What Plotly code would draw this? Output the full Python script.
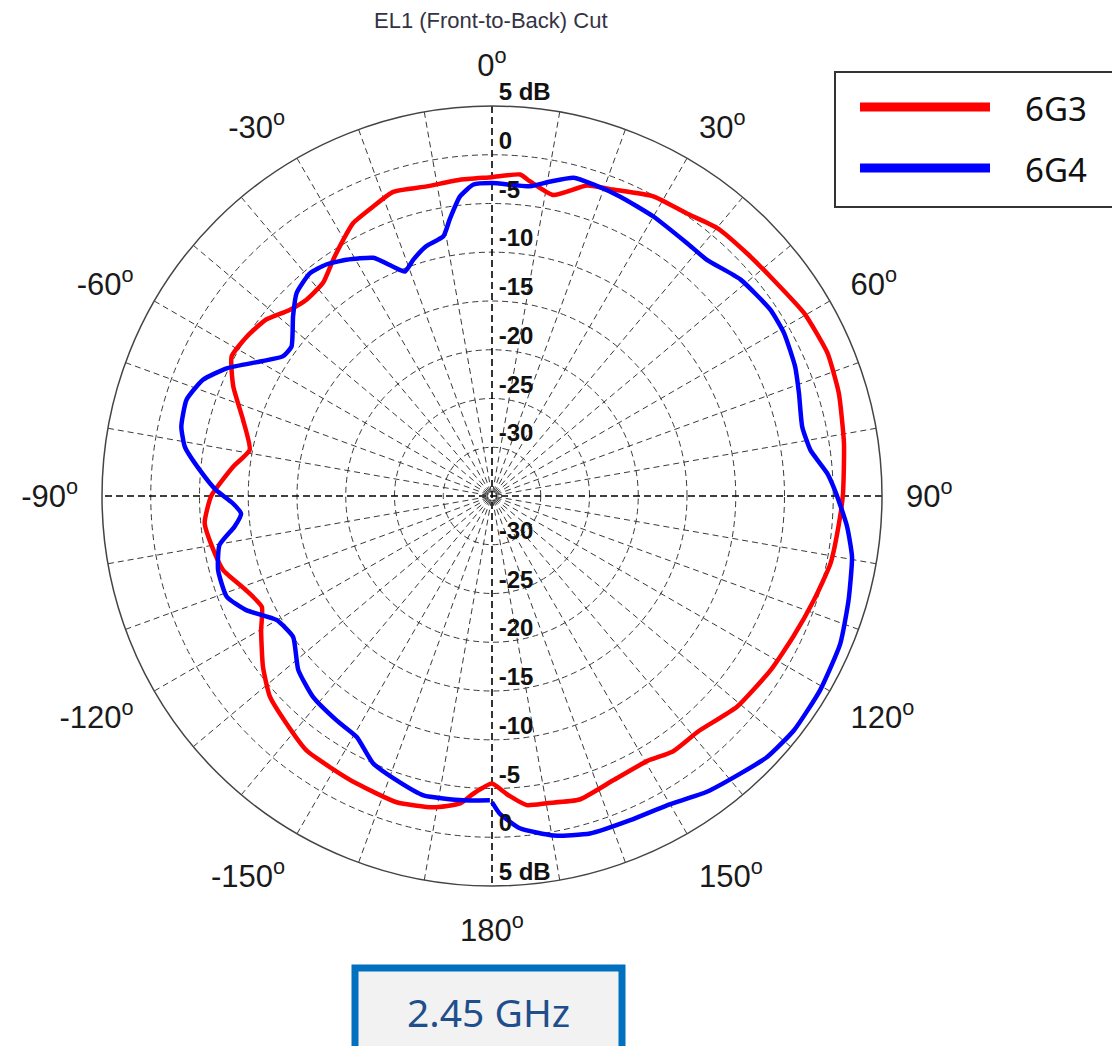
import plotly.graph_objects as go

# ---------------- data ----------------
theta_6g3 = [-180, -176.4, -174.1, -169.3, -162.7, -154.8, -149.1, -143.9, -137.9, -132.1,
             -126.7, -120.2, -115.7, -111, -105.4, -101, -95.4, -90, -83.5, -79.2,
             -73, -67.1, -61.8, -57, -52, -47.4, -43.4, -38.4, -33.9, -30.1,
             -27, -22.3, -18, -11.9, -5.8, 0, 5, 6.9, 11.5, 17,
             21.6, 28.3, 34.6, 40, 46.4, 52.5, 59.6, 66.9, 73.5, 81.5,
             89.6, 94.5, 101.3, 107.9, 115, 122, 130.7, 138.8, 144.7, 149.6,
             156.9, 163.9, 169.9, 173.6, 177.2, 180]
r_6g3 = [-5.5, -4.4, -3.3, -2.5, -2.1, -2.4, -2.6, -2.7, -3.55, -4.3,
         -5.7, -7.6, -8.8, -8.0, -6.4, -5.9, -5.4, -6.2, -8.3, -9.7,
         -8.3, -6.2, -4.7, -5.0, -5.6, -6.8, -7.3, -7.1, -5.8, -4.6,
         -3.6, -2.9, -2.2, -2.55, -2.4, -2.3, -1.9, -2.5, -3.5, -1.7,
         -1.2, -0.1, 0.2, 0.9, 1.1, 1.4, 2.1, 2.4, 2.1, 1.5,
         1.0, 0.7, 0.4, -0.3, -0.9, -1.3, -1.85, -2.9, -2.9, -3.5,
         -3.3, -2.6, -3.0, -3.1, -4.4, -5.5]

theta_6g4 = [-179.6, -174.6, -167.1, -161.4, -156, -150.7, -145.3, -138.3, -131.9, -125.3,
             -119.9, -114.9, -110.8, -105.1, -100.2, -96.8, -94, -91.6, -88.8, -84.9,
             -80.9, -77.4, -72.5, -68.1, -64.3, -59.9, -56.3, -53.3, -47.9, -43.9,
             -39.3, -35.6, -31.6, -26.5, -23.3, -21.2, -18.4, -14.7, -10.6, -8.7,
             -6.1, -3.4, 0, 7, 10.5, 14.4, 18, 23.2, 30, 37.6,
             42.3, 48.9, 56.2, 60.8, 66.9, 71.5, 77.4, 81.8, 86.1, 89.6,
             94.9, 99.6, 106.3, 113, 120.6, 127.8, 133.5, 138.2, 144, 150.5,
             156.9, 163.8, 169.7, 175.2, 178.6, 180]
r_6g4 = [-3.8, -3.65, -3.5, -4.25, -5.0, -6.65, -7.0, -7.4, -8.3, -10.0,
         -9.5, -7.2, -5.9, -5.9, -6.6, -8.4, -9.2, -8.4, -6.7, -4.9,
         -3.1, -2.35, -2.15, -3.05, -4.8, -7.5, -9.2, -9.35, -7.5, -6.1,
         -5.5, -5.8, -6.55, -7.7, -9.4, -10.3, -9.45, -8.5, -7.9, -6.3,
         -4.1, -3.0, -2.9, -3.0, -2.2, -1.3, -1.4, -1.6, -1.9, -2.25,
         -2.25, -1.2, -0.65, -0.7, -1.2, -1.8, -2.4, -2.0, -0.55, 0.3,
         1.55, 2.45, 3.1, 3.8, 4.1, 4.2, 3.9, 3.2, 2.5, 1.45,
         1.15, 1.05, 0.4, -0.8, -2.4, -3.6]

series_names = ["6G3", "6G4"]
series_colors = ["#ff0000", "#0000ff"]

radial_range = [-35, 5]
radial_ticks = [5, 0, -5, -10, -15, -20, -25, -30]
radial_tick_text = ["5 dB", "0", "-5", "-10", "-15", "-20", "-25", "-30"]

spoke_angles = list(range(0, 360, 10))
main_axes = [0, 90]
angle_label_vals = [0, 30, 60, 90, 120, 150, 180, 210, 240, 270, 300, 330]
angle_label_text = ["0", "30", "60", "90", "120", "150", "180",
                    "-150", "-120", "-90", "-60", "-30"]

title_text = "EL1 (Front-to-Back) Cut"
freq_text = "2.45 GHz"

# ---------------- figure ----------------
W, H = 1120, 1046
OFF = 8  # page body margin


def px(x):
    return (x - OFF) / W


def py(y):
    return 1 - (y - OFF) / H


GRID = "#3a3a3a"
DASH = "6px,4px"

fig = go.Figure()

# dashed spokes every 10 degrees (minor grid)
sp_r, sp_t = [], []
for a in spoke_angles:
    if a % 90 == 0:
        continue
    sp_r += [radial_range[1], radial_range[0], None]
    sp_t += [a, a, None]
fig.add_trace(go.Scatterpolar(r=sp_r, theta=sp_t, mode="lines",
                              line=dict(color=GRID, width=1, dash=DASH),
                              hoverinfo="skip", showlegend=False))

# darker main axes (0/180 and 90/-90)
for a in main_axes:
    fig.add_trace(go.Scatterpolar(
        r=[radial_range[1], radial_range[0], radial_range[1]],
        theta=[a, a, a + 180], mode="lines",
        line=dict(color="#000000", width=1.6, dash="7px,4px"),
        hoverinfo="skip", showlegend=False))

for th, rr, name, col in [(theta_6g3, r_6g3, series_names[0], series_colors[0]),
                          (theta_6g4, r_6g4, series_names[1], series_colors[1])]:
    fig.add_trace(go.Scatterpolar(r=rr, theta=th, mode="lines", name=name,
                                  line=dict(color=col, width=4.5, shape="spline",
                                            smoothing=0.5),
                                  showlegend=False))

# radial tick labels on upper and lower half
for a in (0, 180):
    fig.add_trace(go.Scatterpolar(
        r=radial_ticks, theta=[a] * len(radial_ticks), mode="text",
        text=["\u00a0" + t for t in radial_tick_text], textposition="top right",
        textfont=dict(family="Liberation Sans, Arial", size=24, color="#111111",
                      weight="bold"),
        hoverinfo="skip", showlegend=False))

ticktext = [t + "<sup>o</sup>" for t in angle_label_text]

cx, cy, R = 492, 496, 390
fig.update_layout(
    width=W, height=H,
    margin=dict(l=0, r=0, t=0, b=0),
    paper_bgcolor="white",
    plot_bgcolor="white",
    showlegend=False,
    polar=dict(
        domain=dict(x=[px(cx - R), px(cx + R)], y=[py(cy + R), py(cy - R)]),
        bgcolor="white",
        angularaxis=dict(
            rotation=90, direction="clockwise",
            tickmode="array", tickvals=angle_label_vals, ticktext=ticktext,
            tickfont=dict(family="Liberation Sans, Arial", size=31, color="#1a1a1a"),
            ticks="outside", ticklen=17, tickcolor="rgba(0,0,0,0)",
            showline=True, linecolor="#444444", linewidth=1.5,
            showgrid=False,
        ),
        radialaxis=dict(
            range=radial_range, tickmode="array", tickvals=radial_ticks[1:],
            showticklabels=False, ticks="", showline=False,
            showgrid=True, gridcolor=GRID, gridwidth=1, griddash=DASH,
        ),
    ),
)

# title
fig.add_annotation(x=px(491), y=py(20), xref="paper", yref="paper",
                   xanchor="center", yanchor="middle",
                   text=title_text, showarrow=False,
                   font=dict(family="Liberation Sans, Arial", size=22, color="#333344"))

# legend box (manual) and frequency box
shapes = [
    dict(type="rect", xref="paper", yref="paper", x0=px(835), x1=px(1140),
         y0=py(207), y1=py(72), line=dict(color="#333333", width=2), fillcolor="white"),
    dict(type="line", xref="paper", yref="paper", x0=px(860), x1=px(990),
         y0=py(107), y1=py(107), line=dict(color=series_colors[0], width=9)),
    dict(type="line", xref="paper", yref="paper", x0=px(860), x1=px(990),
         y0=py(168), y1=py(168), line=dict(color=series_colors[1], width=9)),
    dict(type="rect", xref="paper", yref="paper", x0=px(355), x1=px(622),
         y0=py(1060), y1=py(968), line=dict(color="#0070c0", width=7), fillcolor="#f2f2f2"),
]
fig.update_layout(shapes=shapes)
for yy, name in [(108, series_names[0]), (170, series_names[1])]:
    fig.add_annotation(x=px(1023), y=py(yy), xref="paper", yref="paper",
                       xanchor="left", yanchor="middle",
                       text=name, showarrow=False,
                       font=dict(family="Noto Sans", size=33, color="#111111"))

fig.add_annotation(x=px(488), y=py(1011), xref="paper", yref="paper",
                   xanchor="center", yanchor="middle",
                   text=freq_text, showarrow=False,
                   font=dict(family="Noto Sans", size=39, color="#1f4e8c"))

fig.write_html("out.html")
